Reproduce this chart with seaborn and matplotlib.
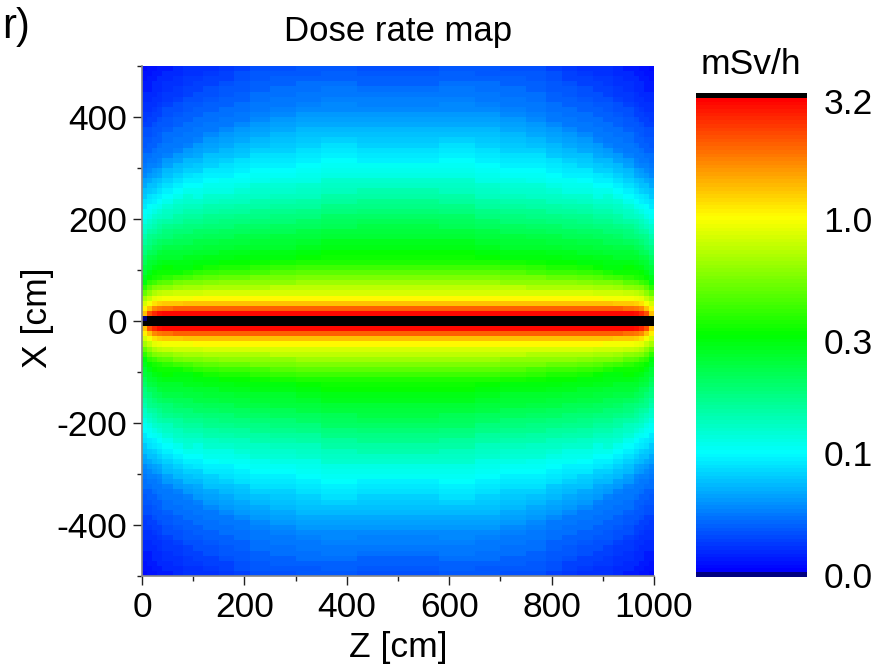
import numpy as np
import matplotlib
matplotlib.use('Agg')
import matplotlib.pyplot as plt
from matplotlib.colors import LinearSegmentedColormap, LogNorm
from matplotlib.transforms import ScaledTranslation
import seaborn as sns

# Colour bar position (0 = bottom, 100 = top), one list per Z station.
# Each list runs outward from the beam axis in 10 cm steps (first entry is X = 0-10 cm).
# 105 means above the scale (black)
level_z00 = [105, 81, 76, 71, 66, 60, 54, 49, 47, 45, 44, 42, 40, 38, 37, 35, 33, 31, 30, 28, 26, 25, 23, 22, 20, 19, 17, 16, 14, 13, 12, 11, 11, 10, 9, 9, 8, 8, 7, 6, 6, 5, 5, 4, 4, 3, 3, 2, 2, 1]
level_z01 = [105, 92, 81, 74, 69, 64, 59, 54, 50, 48, 46, 45, 43, 41, 39, 37, 36, 34, 32, 30, 28, 26, 25, 23, 22, 20, 19, 17, 15, 14, 13, 12, 11, 10, 10, 9, 8, 8, 7, 7, 6, 5, 5, 4, 4, 3, 3, 3, 2, 2]
level_z02 = [105, 96, 86, 78, 72, 67, 62, 56, 52, 50, 48, 46, 44, 42, 41, 39, 37, 35, 33, 32, 30, 28, 26, 24, 23, 21, 19, 18, 16, 15, 13, 12, 12, 11, 10, 10, 9, 9, 8, 7, 7, 6, 5, 5, 4, 4, 4, 3, 3, 2]
level_z03 = [105, 98, 88, 79, 73, 68, 63, 58, 53, 51, 49, 47, 46, 44, 42, 40, 38, 36, 35, 33, 31, 29, 27, 25, 24, 22, 21, 19, 17, 16, 14, 13, 12, 12, 11, 10, 10, 9, 9, 8, 7, 7, 6, 5, 5, 4, 4, 4, 3, 3]
level_z04 = [105, 99, 89, 80, 74, 69, 64, 59, 54, 51, 50, 48, 46, 45, 43, 41, 39, 38, 36, 34, 32, 31, 29, 27, 25, 24, 22, 21, 19, 18, 16, 15, 13, 12, 12, 11, 11, 10, 9, 9, 8, 8, 7, 6, 6, 5, 5, 4, 4, 3]
level_z06 = [105, 99, 90, 80, 74, 70, 65, 61, 56, 51, 49, 48, 46, 45, 43, 42, 40, 39, 37, 35, 34, 32, 31, 29, 27, 25, 24, 22, 21, 19, 18, 16, 15, 13, 12, 12, 11, 11, 10, 10, 9, 8, 8, 7, 6, 6, 5, 5, 4, 4]
level_z08 = [105, 99, 90, 81, 74, 70, 66, 62, 57, 53, 49, 48, 47, 45, 44, 42, 41, 39, 38, 36, 35, 33, 32, 30, 29, 27, 25, 24, 22, 21, 19, 18, 16, 15, 13, 12, 12, 11, 11, 10, 10, 9, 9, 8, 7, 7, 6, 6, 5, 5]
level_z10 = [105, 99, 90, 81, 75, 70, 66, 62, 58, 54, 50, 49, 47, 46, 44, 43, 41, 40, 38, 36, 35, 33, 32, 30, 28, 27, 25, 24, 23, 21, 20, 18, 17, 16, 15, 13, 12, 12, 11, 11, 10, 10, 9, 8, 8, 7, 7, 6, 5, 5]
level_z12 = [105, 99, 90, 81, 75, 71, 67, 63, 59, 55, 52, 49, 48, 46, 45, 43, 42, 40, 39, 37, 36, 34, 33, 31, 30, 28, 27, 25, 24, 23, 21, 20, 19, 17, 16, 15, 14, 12, 12, 11, 11, 10, 10, 9, 8, 8, 7, 7, 6, 5]
level_z15 = [105, 99, 90, 81, 75, 71, 67, 64, 60, 56, 53, 50, 48, 47, 45, 44, 42, 41, 39, 38, 36, 35, 33, 32, 30, 28, 27, 26, 24, 23, 22, 21, 19, 18, 17, 16, 15, 14, 12, 12, 11, 11, 10, 10, 9, 9, 8, 7, 7, 6]
level_z18 = [105, 99, 90, 81, 75, 71, 67, 64, 60, 56, 53, 50, 49, 47, 46, 44, 43, 41, 40, 38, 37, 35, 34, 32, 31, 29, 28, 26, 25, 24, 23, 22, 20, 19, 18, 17, 16, 15, 14, 12, 12, 11, 11, 10, 10, 9, 9, 8, 8, 7]
level_z21 = [105, 99, 90, 81, 75, 71, 67, 64, 61, 57, 54, 51, 49, 48, 46, 45, 43, 42, 40, 39, 37, 36, 34, 33, 31, 30, 29, 27, 26, 25, 24, 23, 22, 21, 19, 18, 17, 16, 15, 14, 13, 12, 12, 11, 11, 10, 10, 9, 9, 8]
level_z25 = [105, 99, 90, 81, 75, 71, 68, 64, 61, 58, 55, 52, 49, 48, 46, 45, 44, 42, 41, 39, 38, 36, 35, 33, 32, 30, 29, 28, 26, 25, 24, 23, 22, 21, 20, 19, 18, 17, 16, 15, 14, 13, 12, 12, 11, 11, 10, 10, 9, 8]
level_z30 = [105, 99, 90, 81, 75, 71, 68, 65, 62, 59, 56, 53, 50, 49, 47, 46, 44, 43, 41, 40, 38, 37, 35, 34, 32, 31, 30, 28, 27, 26, 25, 24, 23, 22, 21, 20, 19, 18, 17, 16, 15, 14, 13, 12, 12, 11, 11, 10, 9, 9]
level_z35 = [105, 99, 90, 81, 75, 71, 68, 65, 62, 59, 56, 53, 51, 50, 48, 47, 45, 44, 42, 41, 40, 38, 37, 35, 34, 32, 31, 30, 28, 27, 26, 25, 24, 23, 22, 21, 19, 18, 17, 16, 15, 14, 14, 13, 12, 12, 11, 10, 10, 9]
level_z42 = [105, 99, 90, 81, 75, 71, 68, 65, 62, 59, 56, 53, 51, 50, 48, 47, 45, 44, 43, 42, 40, 39, 37, 36, 34, 33, 31, 30, 28, 27, 26, 24, 23, 22, 21, 20, 19, 18, 17, 16, 15, 14, 13, 13, 12, 11, 10, 10, 9, 8]

# how many 10 cm cells each station covers, from the end of the beam to the middle
station_cells = [1, 1, 1, 1, 2, 2, 2, 2, 3, 3, 3, 4, 5, 5, 7, 8]

scale_min = 0.03
scale_max = 3.2
source_end_level = -5  # the one navy cell at the start of the beam

colorbar_values = [0.03, 0.1, 0.3, 1.0, 3.2]
colorbar_labels = ['0.0', '0.1', '0.3', '1.0', '3.2']
x_major = [0, 200, 400, 600, 800, 1000]
x_minor = [100, 300, 500, 700, 900]
y_major = [400, 200, 0, -200, -400]
y_minor = [500, 300, 100, -100, -300, -500]

sns.set_theme(style='white')
plt.rcParams['font.family'] = ['Liberation Sans', 'DejaVu Sans']
plt.rcParams['font.size'] = 25.5

stations = [level_z00, level_z01, level_z02, level_z03, level_z04, level_z06, level_z08, level_z10,
            level_z12, level_z15, level_z18, level_z21, level_z25, level_z30, level_z35, level_z42]

half = np.repeat(np.array(stations).T, station_cells, axis=1)
right_half = half[:, ::-1]
quarter = np.hstack([half, right_half])
upper = quarter[::-1].astype(float)
upper[-1, 0] = source_end_level
levels = np.vstack([upper, quarter])

# levels are positions on the log colour bar, turn them into mSv/h
dose = scale_min * (scale_max / scale_min) ** (levels / 100)

cmap = LinearSegmentedColormap.from_list(
    'dose', ['#0000ff', '#00ffff', '#00ff00', '#ffff00', '#ff0000'], N=128)
cmap.set_over('black')
cmap.set_under('#000080')

W, H = 876, 665
fig = plt.figure(figsize=(W / 100, H / 100), dpi=100)
ax = fig.add_axes([142 / W, 1 - 576 / H, 512 / W, 510 / H])
cax = fig.add_axes([696 / W, 1 - 577 / H, 111 / W, 484 / H])

sns.heatmap(dose, ax=ax, cbar_ax=cax, cmap=cmap,
            norm=LogNorm(vmin=scale_min, vmax=scale_max),
            xticklabels=False, yticklabels=False,
            cbar_kws={'extend': 'both', 'extendfrac': 0.0105, 'extendrect': True,
                      'drawedges': False})

# heatmap axes count cells, 10 cm per cell
ax.set_xticks([z / 10 for z in x_major], [str(z) for z in x_major])
ax.set_xticks([z / 10 for z in x_minor], minor=True)
ax.set_yticks([(500 - x) / 10 for x in y_major], [str(x) for x in y_major], rotation=0)
ax.set_yticks([(500 - x) / 10 for x in y_minor], minor=True)
ax.tick_params(which='major', length=6.5, width=1, color='#222222', labelsize=25.5,
               bottom=True, left=True, pad=4, labelcolor='black')
ax.tick_params(which='minor', length=3.5, width=1, color='#222222', bottom=True, left=True)
for side in ['left', 'bottom']:
    ax.spines[side].set_visible(True)
    ax.spines[side].set_color('#888888')
    ax.spines[side].set_linewidth(1.2)

cbar = ax.collections[0].colorbar
cbar.set_ticks(colorbar_values, labels=colorbar_labels)
cbar.ax.minorticks_off()
cbar.ax.tick_params(length=0, pad=12, labelsize=25.5, labelcolor='black')
cbar.outline.set_visible(False)
# the labels sit a little below their levels
shift = ScaledTranslation(0, -2 / 72, fig.dpi_scale_trans)
for label in cbar.ax.get_yticklabels():
    label.set_transform(label.get_transform() + shift)

fig.text(398 / W, 1 - 32 / H, 'Dose rate map', ha='center', va='center', fontsize=25, color='black')
fig.text(398 / W, 1 - 648 / H, 'Z [cm]', ha='center', va='center', fontsize=25.5, color='black')
fig.text(37 / W, 1 - 318 / H, 'X [cm]', ha='center', va='center', rotation=90, fontsize=25.5, color='black')
fig.text(751 / W, 1 - 65 / H, 'mSv/h', ha='center', va='center', fontsize=25.5, color='black')
fig.text(2 / W, 1 - 27 / H, 'r)', ha='left', va='center', fontsize=30, color='black')

fig.savefig('out.png', dpi=100)
plt.close()
